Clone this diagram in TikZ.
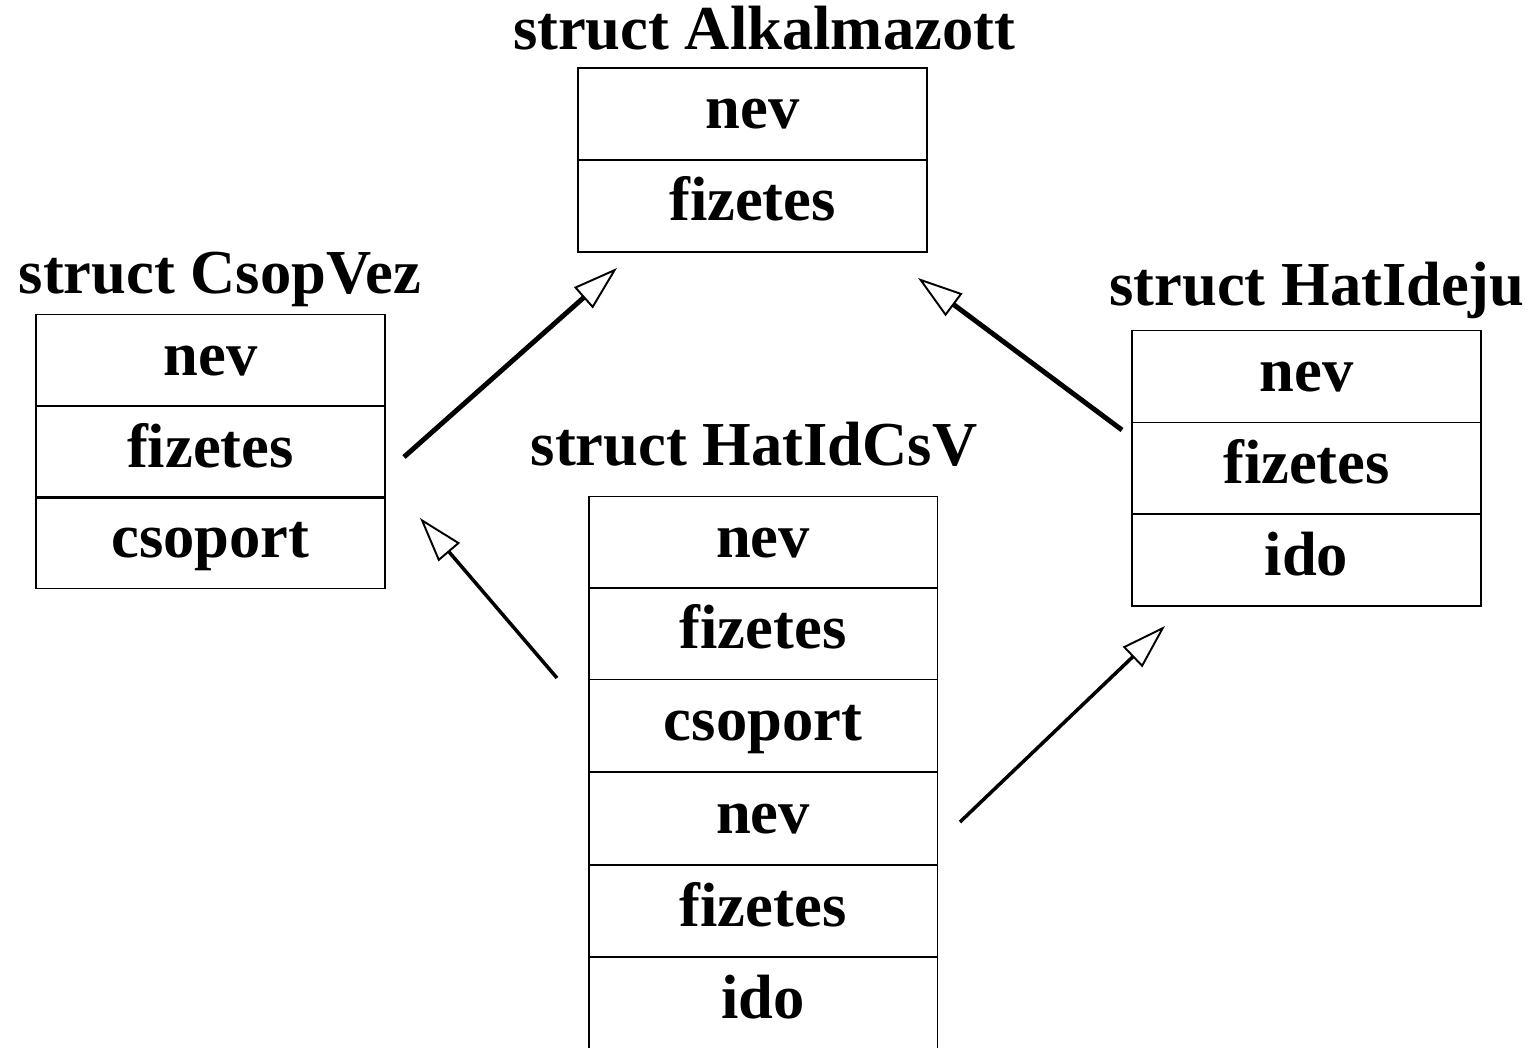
\documentclass[tikz,border=0pt]{standalone}
\usepackage{fontspec}
\setmainfont{Liberation Serif}
\usetikzlibrary{arrows.meta}

\tikzset{
  cell/.style={draw, line width=1.1pt, rectangle, minimum width=6.98cm, minimum height=1.84cm, inner sep=0pt, text height=0.8cm, text depth=0.2cm},
  title/.style={inner sep=0pt, anchor=base},
  link/.style={-{Triangle[open, length=0.9cm, width=0.56cm, line width=1.1pt]}}
}

\begin{document}
\begin{tikzpicture}[x=0.02cm,y=-0.02cm, every node/.style={font=\fontsize{35.6}{40}\selectfont\bfseries}]
    \clip (0,0) rectangle (1536,1048);
    % struct Alkalmazott
    \node[title] (alkT) at (764,50) {struct Alkalmazott};
    \node[cell] (alk1) at (752.5,114) {nev};
    \node[cell] (alk2) at (752.5,206) {fizetes};
    % struct CsopVez
    \node[title] (csvT) at (220,293) {struct CsopVez};
    \node[cell] (csv1) at (210.5,360.5) {nev};
    \node[cell] (csv2) at (210.5,452) {fizetes};
    \node[cell] (csv3) at (210.5,542.5) {csoport};
    % struct HatIdeju
    \node[title] (hiT) at (1317,305) {struct HatIdeju};
    \node[cell] (hi1) at (1306.5,376.5) {nev};
    \node[cell] (hi2) at (1306.5,468.5) {fizetes};
    \node[cell] (hi3) at (1306.5,560) {ido};
    % struct HatIdCsV
    \node[title] (hcT) at (754,465) {struct HatIdCsV};
    \node[cell] (hc1) at (763,542.5) {nev};
    \node[cell] (hc2) at (763,633.5) {fizetes};
    \node[cell] (hc3) at (763,725.5) {csoport};
    \node[cell] (hc4) at (763,818.5) {nev};
    \node[cell] (hc5) at (763,911) {fizetes};
    \node[cell] (hc6) at (763,1003) {ido};
    % arrow ends
    \coordinate (a1) at (404,457);
    \coordinate (a2) at (617,268);
    \coordinate (b1) at (1122,430);
    \coordinate (b2) at (918,278);
    \coordinate (c1) at (557,678);
    \coordinate (c2) at (420,518);
    \coordinate (d1) at (960,822);
    \coordinate (d2) at (1165,626);
    \draw[link, line width=2.8pt] (a1) -- (a2);
    \draw[link, line width=2.8pt] (b1) -- (b2);
    \draw[link, line width=2pt] (c1) -- (c2);
    \draw[link, line width=2pt] (d1) -- (d2);
\end{tikzpicture}
\end{document}
